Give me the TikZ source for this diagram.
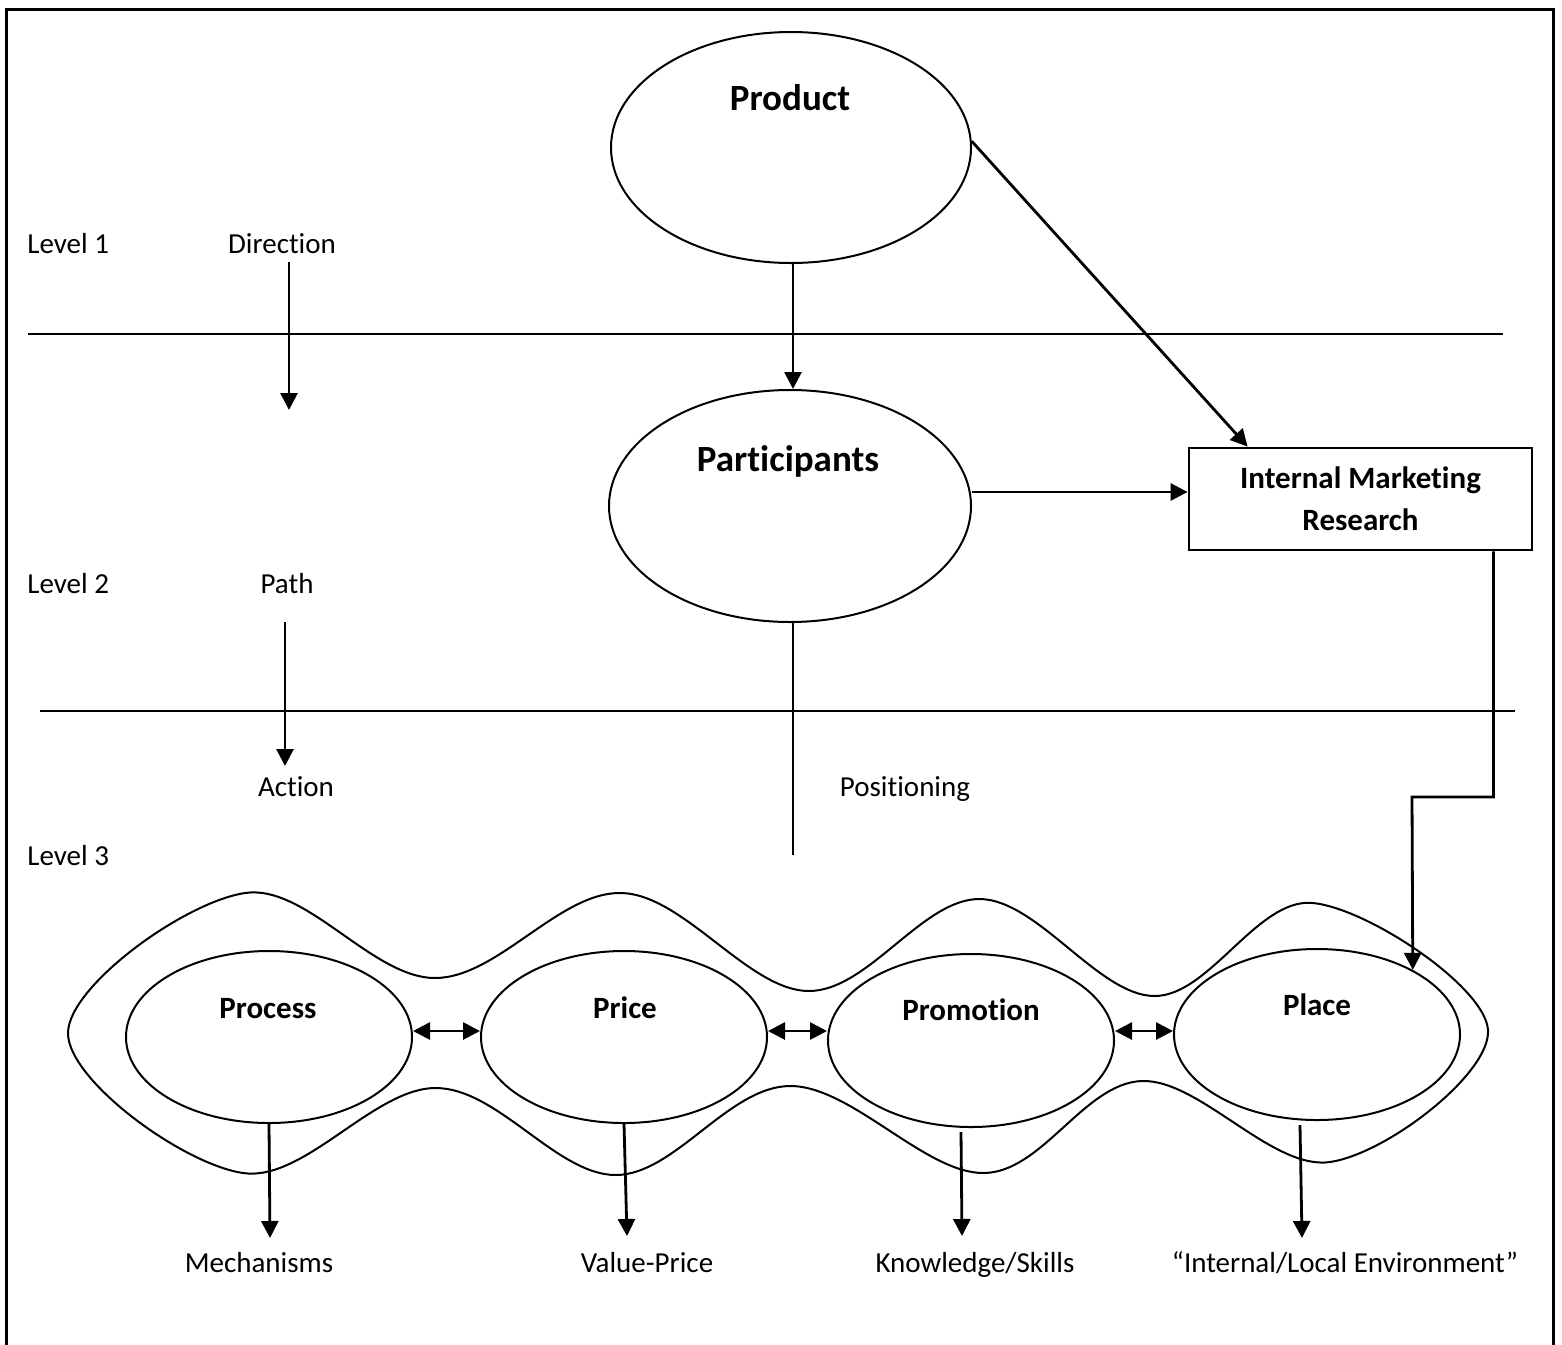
\documentclass[tikz,border=0pt]{standalone}
\usepackage{fontspec}
\setmainfont{Carlito}[Ligatures={NoCommon,NoRare,NoDiscretionary}]
\usetikzlibrary{shapes.geometric,arrows.meta,calc}
\begin{document}
\begin{tikzpicture}[x=0.5pt,y=-0.5pt,
  oval/.style={draw,ellipse,line width=1pt,inner sep=0pt},
  lbl/.style={font=\fontsize{14.5pt}{17pt}\selectfont,inner sep=0pt,text height=10.2pt,text depth=0pt},
  big/.style={font=\fontsize{18.5pt}{22pt}\selectfont\bfseries,inner sep=0pt,text height=13pt,text depth=0pt},
  mid/.style={font=\fontsize{15.5pt}{21pt}\selectfont\bfseries,inner sep=0pt,text height=11pt,text depth=0pt},
  arr/.style={line width=1.4pt,-{Triangle[length=8.5pt,width=8.5pt]}},
  darr/.style={line width=1.4pt,{Triangle[length=8.5pt,width=8.5pt]}-{Triangle[length=8.5pt,width=8.5pt]}},
  rule/.style={line width=1pt}]
\clip (0,0) rectangle (1562,1344);
% frame
\coordinate (fbl) at (6,1360);
\coordinate (ftl) at (6,9);
\coordinate (ftr) at (1553,9);
\coordinate (fbr) at (1553,1360);
\draw[line width=1.5pt] (fbl) -- (ftl) -- (ftr) -- (fbr);

% level rules
\coordinate (r1a) at (28,334); \coordinate (r1b) at (1503,334);
\coordinate (r2a) at (40,711); \coordinate (r2b) at (1515,711);
\draw[rule] (r1a) -- (r1b);
\draw[rule] (r2a) -- (r2b);

% left labels
\node[lbl,anchor=west] (lev1) at (27,243) {Level 1};
\node[lbl,anchor=west] (lev2) at (27,583) {Level 2};
\node[lbl,anchor=west] (lev3) at (27,855) {Level 3};
\node[lbl] (direction) at (282,243) {Direction};
\node[lbl] (path) at (287,583) {Path};
\node[lbl] (action) at (296,786) {Action};
\node[lbl] (positioning) at (905,786) {Positioning};

\coordinate (d1) at (289,262); \coordinate (d2) at (289,410);
\draw[arr] (d1) -- (d2);
\coordinate (p1) at (285,622); \coordinate (p2) at (285,766);
\draw[arr] (p1) -- (p2);

% top ellipses
\node[oval,minimum width=180pt,minimum height=115.5pt] (product) at (791,147.5) {};
\node[big] (producttxt) at (790,97) {Product};
\node[oval,minimum width=181pt,minimum height=116pt] (participants) at (790,506) {};
\node[big] (participantstxt) at (788,458) {Participants};

% box
\node[draw,line width=1.4pt,minimum width=171.5pt,minimum height=51pt,inner sep=0pt,
      font=\fontsize{15.5pt}{21pt}\selectfont\bfseries,align=center] (imr) at (1360.5,499) {Internal Marketing\\Research};

\coordinate (pp) at (793,0);
\draw[arr] (pp |- product.south) -- (pp |- participants.north);
\draw[arr] (product.2) -- ([xshift=30pt]imr.north west);
\coordinate (pimr) at ([yshift=3.5pt]imr.west);
\draw[arr] (participants.east |- pimr) -- (pimr);
\coordinate (posend) at (793,855);
\draw[rule] (posend |- participants.south) -- (posend);

% outer blob
\draw[line width=1pt] plot[smooth cycle, tension=0.6] coordinates {
 (68,1033) (245,893) (435,978) (622,893) (808,991) (980,899) (1154,996)
 (1313,903) (1488,1030) (1330,1162) (1142,1081) (984,1173) (790,1086)
 (616,1175) (436,1088) (243,1173)};

% lower ellipses
\node[oval,minimum width=143pt,minimum height=86pt] (process) at (269,1037) {};
\node[oval,minimum width=143pt,minimum height=86pt] (price) at (624,1037) {};
\node[oval,minimum width=143pt,minimum height=86.5pt] (promotion) at (971,1040.5) {};
\node[oval,minimum width=143pt,minimum height=85.5pt] (place) at (1317,1034.5) {};
\node[mid] (processtxt) at (268,1007) {Process};
\node[mid] (pricetxt) at (625,1007) {Price};
\node[mid] (promotiontxt) at (971,1009) {Promotion};
\node[mid] (placetxt) at (1317,1004) {Place};

\coordinate (ay) at (0,1031);
\draw[darr] (process.east |- ay) -- (price.west |- ay);
\draw[darr] (price.east |- ay) -- (promotion.west |- ay);
\draw[darr] (promotion.east |- ay) -- (place.west |- ay);

% box to place
\coordinate (turn) at (1412,797);
\draw[arr] ([xshift=-20pt]imr.south east) |- (turn) -- (place.34);

% bottom labels
\node[lbl] (mech) at (259,1262) {Mechanisms};
\node[lbl] (valueprice) at (647,1262) {Value-Price};
\node[lbl] (knowledge) at (975,1262) {Knowledge/Skills};
\node[lbl] (environment) at (1345,1262) {“Internal/Local Environment”};

\coordinate (t1) at (270,1238);
\coordinate (t2) at (627,1236);
\coordinate (t3) at (962,1236);
\coordinate (t4) at (1302,1238);
\draw[arr] (process.south) -- (t1);
\draw[arr] (price.south) -- (t2);
\draw[arr] ([xshift=-5pt,yshift=-2pt]promotion.south) -- (t3);
\draw[arr] ([xshift=-8.5pt,yshift=-2pt]place.south) -- (t4);
\end{tikzpicture}
\end{document}
